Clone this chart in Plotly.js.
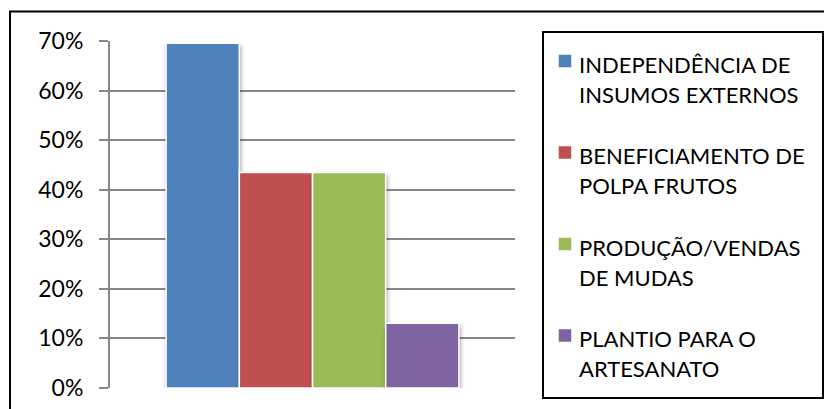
<!DOCTYPE html>
<html>
<head>
<meta charset="utf-8">
<script src="https://cdn.plot.ly/plotly-3.0.1.min.js"></script>
<style>
  html, body { margin: 0; padding: 0; background: #fff; }
  #chart { width: 824px; height: 409px; }
  #chart .trace.bars .point path { filter: drop-shadow(1px 3px 2px rgba(0,0,0,0.35)); }
</style>
</head>
<body>
<div id="chart"></div>
<script>
// Share of respondents per activity (one group, four series)
const categories = ['Atividades'];
const seriesNames = [
  'INDEPENDÊNCIA DE INSUMOS EXTERNOS',
  'BENEFICIAMENTO DE POLPA FRUTOS',
  'PRODUÇÃO/VENDAS DE MUDAS',
  'PLANTIO PARA O ARTESANATO'
];
// legend text broken over two lines
const legendLines = [
  ['INDEPENDÊNCIA DE', 'INSUMOS EXTERNOS'],
  ['BENEFICIAMENTO DE', 'POLPA FRUTOS'],
  ['PRODUÇÃO/VENDAS', 'DE MUDAS'],
  ['PLANTIO PARA O', 'ARTESANATO']
];
const seriesValues = [69.57, 43.48, 43.48, 13.04];
const seriesColors = ['#4F81BD', '#C0504D', '#9BBB59', '#8064A2'];
const yTickVals = [0, 10, 20, 30, 40, 50, 60, 70];
const yTickLabels = ['0%', '10%', '20%', '30%', '40%', '50%', '60%', '70%'];

// page geometry (pixels)
const W = 824, H = 409;
const M = { l: 110, r: 309, t: 41, b: 21 };
const plotW = W - M.l - M.r;
const plotH = H - M.t - M.b;
const px = x => (x - M.l) / plotW;          // pixel x -> paper x
const py = y => (H - M.b - y) / plotH;      // pixel y -> paper y

const FONT = 'Lato, "Open Sans", sans-serif';
const GRID = '#878787';

const traces = seriesNames.map((name, i) => ({
  type: 'bar',
  name: name,
  x: categories,
  y: [seriesValues[i]],
  marker: { color: seriesColors[i], line: { color: '#ffffff', width: 1.5 } },
  hoverinfo: 'name+y',
  showlegend: false
}));

// legend frame, swatches and labels
const LEG = { x0: 543, y0: 32, x1: 823, y1: 398, firstY: 64, step: 91.5, swX: 565, txtX: 577, sw: 13 };
const shapes = [
  // outer chart frame
  { type: 'rect', xref: 'paper', yref: 'paper',
    x0: px(10), x1: px(W + 20), y0: py(H + 20), y1: py(11.5),
    line: { color: '#000', width: 2 }, fillcolor: 'rgba(0,0,0,0)' },
  // legend frame
  { type: 'rect', xref: 'paper', yref: 'paper',
    x0: px(LEG.x0), x1: px(LEG.x1), y0: py(LEG.y1), y1: py(LEG.y0),
    line: { color: '#000', width: 2 }, fillcolor: 'rgba(0,0,0,0)' }
];
const annotations = [];
seriesNames.forEach((name, i) => {
  const cy = LEG.firstY + i * LEG.step;
  shapes.push({
    type: 'rect', xref: 'paper', yref: 'paper',
    x0: px(LEG.swX - LEG.sw / 2), x1: px(LEG.swX + LEG.sw / 2),
    y0: py(cy - 3 + LEG.sw / 2), y1: py(cy - 3 - LEG.sw / 2),
    fillcolor: seriesColors[i], line: { color: '#ffffff', width: 0.5 }
  });
  legendLines[i].forEach((line, j) => {
    annotations.push({
      xref: 'paper', yref: 'paper',
      x: px(LEG.txtX), y: py(cy + j * 30),
      xanchor: 'left', yanchor: 'middle',
      text: line, showarrow: false,
      font: { family: FONT, size: 22, color: '#000' }
    });
  });
});

const layout = {
  width: W, height: H,
  margin: M,
  paper_bgcolor: '#ffffff',
  plot_bgcolor: '#ffffff',
  barmode: 'group',
  bargap: 0.277,
  bargroupgap: 0,
  showlegend: false,
  xaxis: {
    type: 'category',
    showticklabels: false, showgrid: false, zeroline: false,
    showline: false, ticks: ''
  },
  yaxis: {
    range: [0, 70],
    tickmode: 'array',
    tickvals: yTickVals,
    ticktext: yTickLabels,
    showgrid: true, gridcolor: GRID, gridwidth: 2,
    zeroline: false,
    showline: true, linecolor: GRID, linewidth: 2,
    ticks: 'outside', ticklen: 9, tickwidth: 2, tickcolor: GRID,
    ticklabelstandoff: 11,
    tickfont: { family: FONT, size: 23, color: '#000' }
  },
  shapes: shapes,
  annotations: annotations
};

Plotly.newPlot('chart', traces, layout, { displayModeBar: false, staticPlot: true });
</script>
</body>
</html>
